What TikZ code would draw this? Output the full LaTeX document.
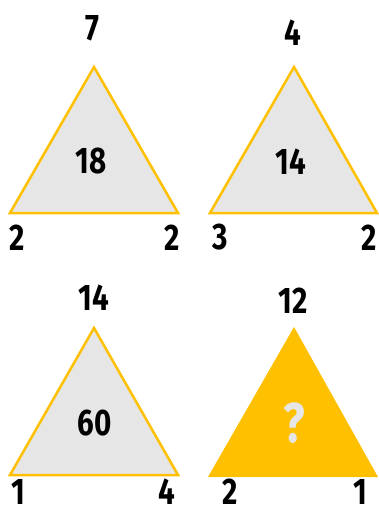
\documentclass[tikz,border=0pt]{standalone}
\usepackage{fontspec}
\setmainfont{Fira Sans}[FakeStretch=0.8]
\definecolor{tyellow}{HTML}{FFC000}
\definecolor{tgray}{HTML}{E6E6E6}
\tikzset{
  tri/.style={draw=tyellow, line width=2.5pt, fill=tgray, line join=miter},
  trisolid/.style={fill=tyellow},
  num/.style={font=\fontsize{37}{38}\selectfont\bfseries, text=black, inner sep=0pt, anchor=center},
  qmark/.style={font=\fontsize{56}{58}\selectfont\bfseries, text=tgray, inner sep=0pt, anchor=center}
}
\begin{document}
\begin{tikzpicture}[x=1pt,y=-1pt]
\useasboundingbox[fill=white] (0,0) rectangle (378,514);
% triangle 1
\draw[tri] (10,213) -- (94,67) -- (178,213) -- cycle;
\node[num] (t1top) at (92,28) {7};
\node[num] (t1mid) at (91,161) {18};
\node[num] (t1l) at (17.5,237.5) {2};
\node[num] (t1r) at (172.5,237.5) {2};
% triangle 2
\draw[tri] (210,213) -- (294,67) -- (377,213) -- cycle;
\node[num] (t2top) at (292.5,33) {4};
\node[num] (t2mid) at (291,162) {14};
\node[num] (t2l) at (220,237.5) {3};
\node[num] (t2r) at (369,237.5) {2};
% triangle 3
\draw[tri] (10,475) -- (94,328) -- (178,475) -- cycle;
\node[num] (t3top) at (93.5,297.5) {14};
\node[num] (t3mid) at (95,423) {60};
\node[num] (t3l) at (18,492) {1};
\node[num] (t3r) at (167,492) {4};
% triangle 4
\fill[trisolid] (208,477) -- (294,327) -- (378,477) -- cycle;
\node[num] (t4top) at (293,301) {12};
\node[qmark] (t4mid) at (294,423) {?};
\node[num] (t4l) at (230,492) {2};
\node[num] (t4r) at (360,492) {1};
\end{tikzpicture}
\end{document}
